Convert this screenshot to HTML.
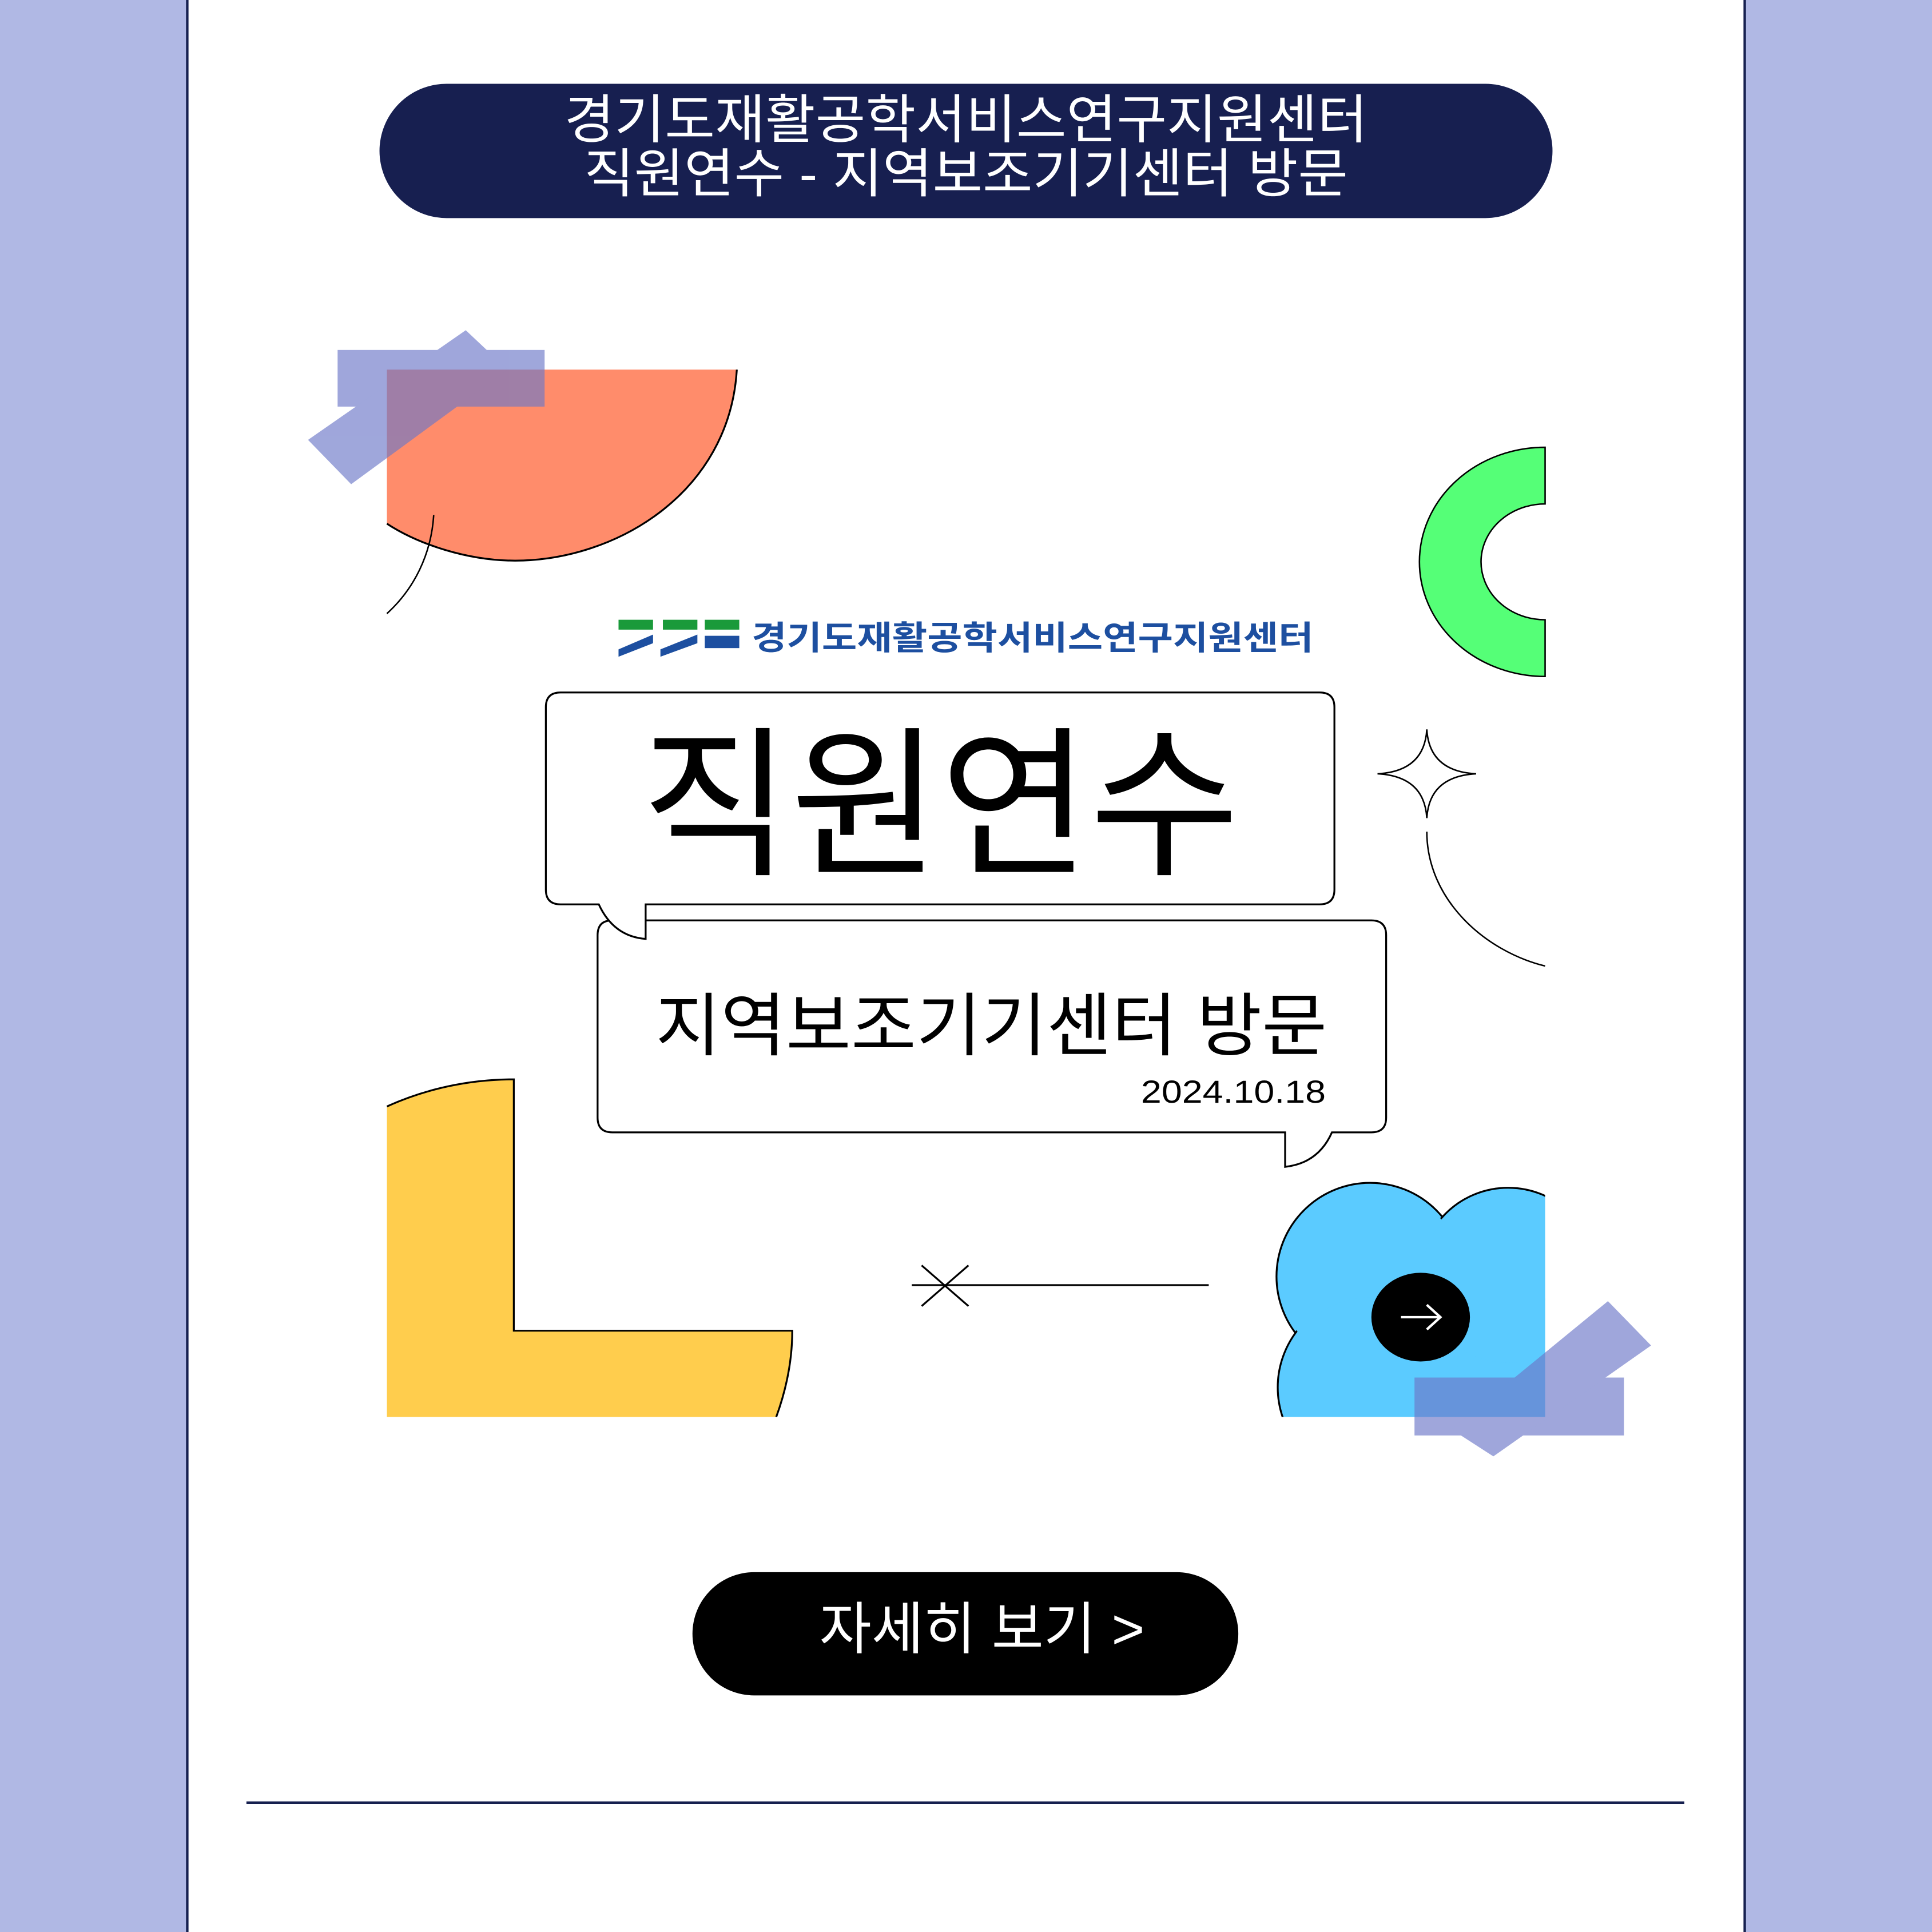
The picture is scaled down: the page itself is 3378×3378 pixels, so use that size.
<!DOCTYPE html>
<html><head><meta charset="utf-8"><style>
html,body{margin:0;padding:0;background:#b0b8e4;}
svg{display:block;}
text{font-family:"Liberation Sans","Noto Sans CJK KR",sans-serif;}
</style></head><body>
<svg width="3378" height="3378" viewBox="0 0 1568 1568" xmlns="http://www.w3.org/2000/svg">
<defs>
<clipPath id="fc"><rect x="1000" y="940" width="254" height="210"/></clipPath>
</defs>
<rect width="1568" height="1568" fill="#b0b8e4"/>
<rect x="152" y="-2" width="1264" height="1572" fill="#fff" stroke="#16204f" stroke-width="2"/>
<!-- top pill -->
<rect x="308" y="68" width="952" height="109" rx="54.5" fill="#171f50"/>
<text x="458" y="112" font-size="43" fill="#fff" textLength="652" lengthAdjust="spacingAndGlyphs">경기도재활공학서비스연구지원센터</text>
<text x="474" y="156" font-size="43" fill="#fff" textLength="620" lengthAdjust="spacingAndGlyphs">직원연수 - 지역보조기기센터 방문</text>
<!-- orange -->
<path d="M314 300 L598 300 C592 400 500 455 418 455 C380 455 340 442 314 425 Z" fill="#ff8c6b"/>
<path d="M598 300 C592 400 500 455 418 455 C380 455 340 442 314 425" fill="none" stroke="#000" stroke-width="1.5"/>
<path d="M352 418 C350 450 336 478 314 498" fill="none" stroke="#000" stroke-width="1.2"/>
<!-- tapes top -->
<g fill="#6c78c8" opacity="0.65">
<rect x="274" y="284" width="168" height="46"/>
<polygon points="250,357 378,268 412,300 285,393"/>
</g>
<!-- green ring -->
<path d="M1254 363 A102 93 0 0 0 1254 549 L1254 503 A52 47 0 0 1 1254 409 Z" fill="#55ff77" stroke="#000" stroke-width="1.2"/>
<!-- logo -->
<g>
<polygon points="502,503 530,503 530,511 502,511" fill="#1a9a3a"/>
<polygon points="538,503 566,503 566,511 538,511" fill="#1a9a3a"/>
<polygon points="572,503 600,503 600,511 572,511" fill="#1a9a3a"/>
<polygon points="502,527 530,515 530,522 502,533" fill="#1d4fa0"/>
<polygon points="536,527 566,515 566,522 536,533" fill="#1d4fa0"/>
<rect x="572" y="516" width="28" height="10" fill="#1d4fa0"/>
</g>
<text x="610" y="527" font-size="27" font-weight="bold" fill="#1d4fa0" textLength="456" lengthAdjust="spacingAndGlyphs">경기도재활공학서비스연구지원센터</text>
<!-- bubble 2 -->
<path d="M497 747 H1113 Q1125 747 1125 759 V907 Q1125 919 1113 919 H1081 Q1070 944 1043 947 V919 H497 Q485 919 485 907 V759 Q485 747 497 747 Z" fill="#fff" stroke="#000" stroke-width="1.5"/>
<text x="532" y="852" font-size="56" fill="#000" textLength="545" lengthAdjust="spacingAndGlyphs">지역보조기기센터 방문</text>
<text x="926" y="895" font-size="26" fill="#000" textLength="150" lengthAdjust="spacingAndGlyphs">2024.10.18</text>
<!-- bubble 1 -->
<path d="M455 562 H1071 Q1083 562 1083 574 V722 Q1083 734 1071 734 H524 V762 Q498 760 486 734 H455 Q443 734 443 722 V574 Q443 562 455 562 Z" fill="#fff" stroke="#000" stroke-width="1.5"/>
<text x="763" y="700" font-size="132" fill="#000" text-anchor="middle">직원연수</text>
<!-- sparkle -->
<path d="M1158 592 Q1160 626 1198 628 Q1160 630 1158 664 Q1156 630 1118 628 Q1156 626 1158 592 Z" fill="none" stroke="#000" stroke-width="1.2"/>
<path d="M1158 675 C1158 730 1205 772 1254 784" fill="none" stroke="#000" stroke-width="1.2"/>
<!-- yellow L -->
<path d="M314 898 C345 884 380 876 417 876 V1080 H643 C643 1105 638 1128 630 1150 H314 Z" fill="#ffcd4d"/>
<path d="M314 898 C345 884 380 876 417 876 V1080 H643 C643 1105 638 1128 630 1150" fill="none" stroke="#000" stroke-width="1.5"/>
<!-- cross line -->
<line x1="740" y1="1043" x2="981" y2="1043" stroke="#000" stroke-width="1.5"/>
<line x1="748" y1="1027" x2="786" y2="1060" stroke="#000" stroke-width="1.5"/>
<line x1="748" y1="1060" x2="786" y2="1027" stroke="#000" stroke-width="1.5"/>
<!-- flower -->
<g clip-path="url(#fc)">
<g fill="#5bcbff" stroke="#000" stroke-width="1.5">
<circle cx="1112" cy="1036" r="76"/><circle cx="1224" cy="1036" r="72"/><circle cx="1112" cy="1126" r="75"/><circle cx="1224" cy="1120" r="72"/>
</g>
<rect x="1080" y="1010" width="180" height="145" fill="#5bcbff"/>
<circle cx="1112" cy="1036" r="74" fill="#5bcbff"/><circle cx="1224" cy="1036" r="70" fill="#5bcbff"/><circle cx="1112" cy="1126" r="73" fill="#5bcbff"/>
</g>
<ellipse cx="1153" cy="1069" rx="40" ry="36" fill="#000"/>
<path d="M1137 1069 H1169 M1158 1059 L1169 1069 L1158 1079" fill="none" stroke="#fff" stroke-width="2"/>
<!-- tapes bottom -->
<g fill="#6c78c8" opacity="0.65">
<rect x="1148" y="1118" width="170" height="47"/>
<polygon points="1178,1160 1305,1056 1340,1092 1212,1182"/>
</g>
<!-- button -->
<rect x="562" y="1276" width="443" height="100" rx="50" fill="#000"/>
<text x="797" y="1338" font-size="46" fill="#fff" text-anchor="middle">자세히 보기 &gt;</text>
<line x1="200" y1="1463" x2="1367" y2="1463" stroke="#16204f" stroke-width="2"/>
</svg>
</body></html>
